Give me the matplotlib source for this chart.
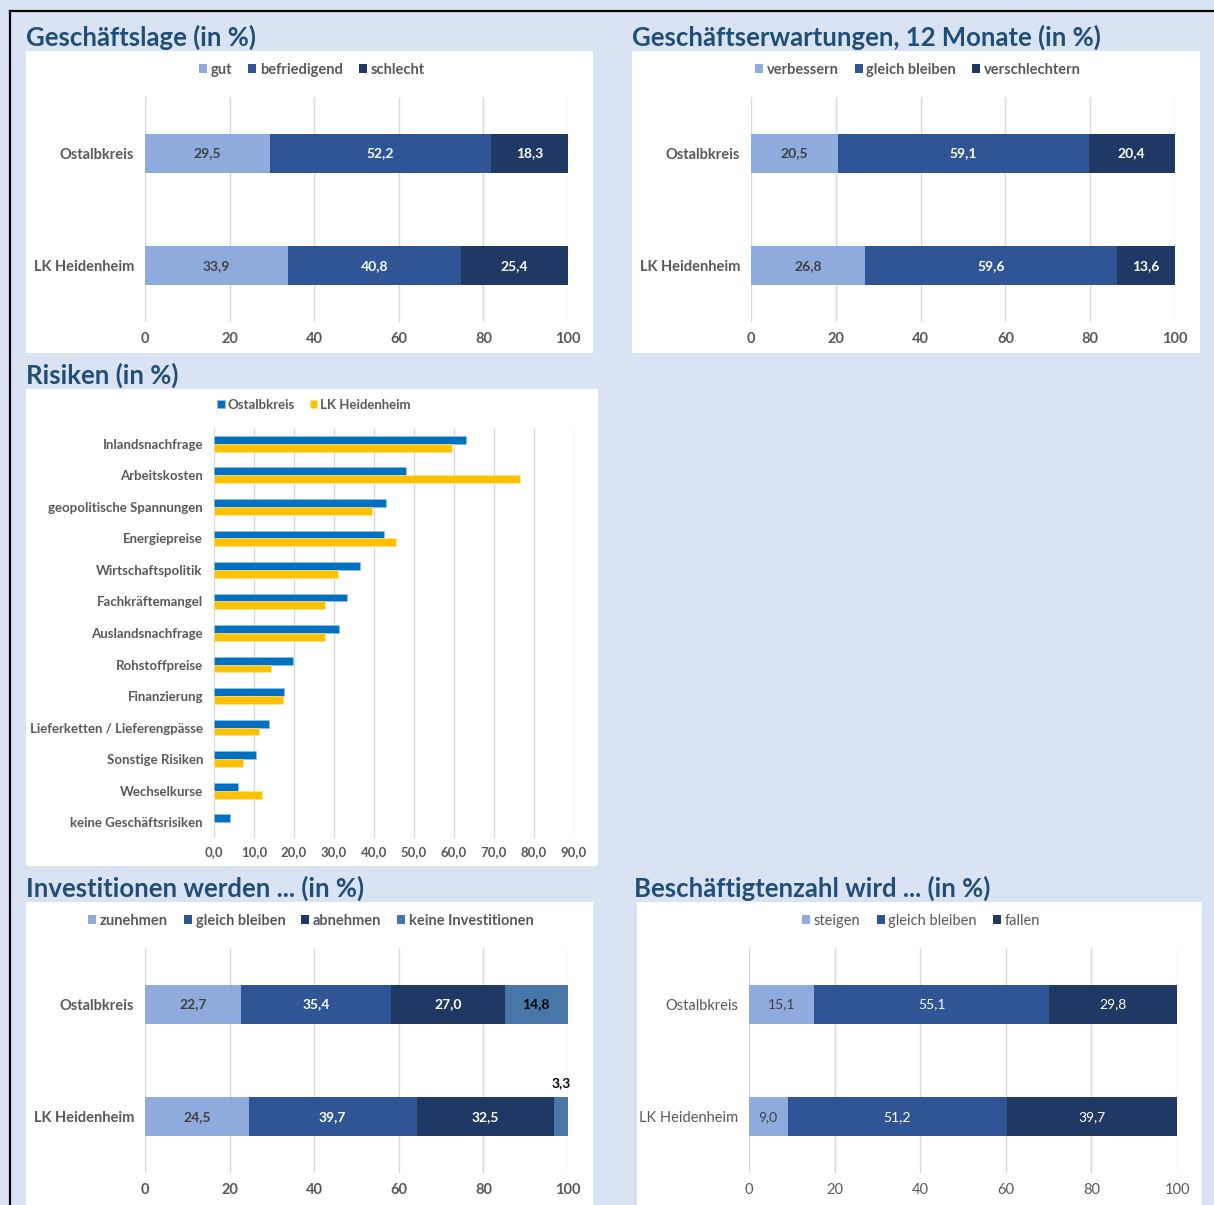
import matplotlib.pyplot as plt
from matplotlib.patches import Rectangle
from matplotlib.lines import Line2D

W, H = 1214, 1205
BG = '#dae3f3'
TITLE = '#1f4e79'
GREY = '#595959'
LIGHT, MID, DARK, STEEL = '#8faadc', '#2f5597', '#203864', '#4677a8'
RISK_BLUE, RISK_YELLOW = '#0070c0', '#ffc000'

regions = ['Ostalbkreis', 'LK Heidenheim']

lage_labels = ['gut', 'befriedigend', 'schlecht']
lage_ostalb = [29.5, 52.2, 18.3]
lage_heid = [33.9, 40.8, 25.4]

erw_labels = ['verbessern', 'gleich bleiben', 'verschlechtern']
erw_ostalb = [20.5, 59.1, 20.4]
erw_heid = [26.8, 59.6, 13.6]

inv_labels = ['zunehmen', 'gleich bleiben', 'abnehmen', 'keine Investitionen']
inv_ostalb = [22.7, 35.4, 27.0, 14.8]
inv_heid = [24.5, 39.7, 32.5, 3.3]

besch_labels = ['steigen', 'gleich bleiben', 'fallen']
besch_ostalb = [15.1, 55.1, 29.8]
besch_heid = [9.0, 51.2, 39.7]

risk_cats = ['Inlandsnachfrage', 'Arbeitskosten', 'geopolitische Spannungen',
             'Energiepreise', 'Wirtschaftspolitik', 'Fachkräftemangel',
             'Auslandsnachfrage', 'Rohstoffpreise', 'Finanzierung',
             'Lieferketten / Lieferengpässe', 'Sonstige Risiken',
             'Wechselkurse', 'keine Geschäftsrisiken']
risk_ostalb = [62.9, 48.1, 43.1, 42.4, 36.5, 33.3, 31.2, 19.7, 17.6, 13.7, 10.4, 6.0, 3.9]
risk_heid = [59.5, 76.5, 39.6, 45.5, 31.1, 27.8, 27.8, 14.3, 17.2, 11.3, 7.3, 12.0, 0.0]

plt.rcParams['font.family'] = ['Lato', 'DejaVu Sans']

fig = plt.figure(figsize=(W / 100, H / 100), dpi=100)
fig.patch.set_facecolor(BG)

# page frame on top and left
fig.add_artist(Line2D([10 / W, 1], [1 - 11 / H, 1 - 11 / H], color='black', lw=1.6))
fig.add_artist(Line2D([10 / W, 10 / W], [0, 1 - 11 / H], color='black', lw=1.6))


def fx(x):
    return x / W


def fy(y):
    return 1 - y / H


def white_box(x0, y0, x1, y1):
    fig.add_artist(Rectangle((fx(x0), fy(y1)), (x1 - x0) / W, (y1 - y0) / H,
                             transform=fig.transFigure, facecolor='white',
                             edgecolor='none', zorder=0))


def px_axes(x0, y0, x1, y1):
    ax = fig.add_axes([fx(x0), fy(y1), (x1 - x0) / W, (y1 - y0) / H])
    ax.set_facecolor('none')
    for s in ax.spines.values():
        s.set_visible(False)
    ax.tick_params(length=0)
    ax.grid(axis='x', color='#d9d9d9', lw=1)
    ax.set_axisbelow(True)
    return ax


def title(x, y, text):
    fig.text(fx(x), fy(y), text, fontsize=18.5, fontweight='bold', color=TITLE,
             va='center', ha='left')


def stacked_panel(box, axbox, ttl, labels, colors, v1, v2, legend_xy,
                  weight='bold', label_colors=None, title_x=None):
    white_box(*box)
    title(box[0] if title_x is None else title_x, box[1] - 14, ttl)
    ax = px_axes(*axbox)
    rows = [v1, v2]
    for j, lab in enumerate(labels):
        lefts = [sum(r[:j]) for r in rows]
        vals = [r[j] for r in rows]
        ax.barh([0, 1], vals, left=lefts, height=0.35, color=colors[j],
                label=lab)
        for i, v in enumerate(vals):
            if v < 5:
                continue
            c = label_colors[j] if label_colors else ('#404040' if j == 0 else 'white')
            ax.text(lefts[i] + v / 2, i, f'{v:.1f}'.replace('.', ','),
                    ha='center', va='center', fontsize=10, color=c,
                    fontweight=weight)
    ax.set_xlim(0, 100)
    ax.set_ylim(1.5, -0.5)
    ax.set_xticks(range(0, 101, 20))
    ax.set_yticks([0, 1])
    ax.set_yticklabels(regions)
    for t in ax.get_xticklabels() + ax.get_yticklabels():
        t.set_color(GREY)
        t.set_fontweight(weight)
        t.set_fontsize(10.5)
    ax.tick_params(axis='x', pad=7)
    ax.tick_params(axis='y', pad=8)
    leg = ax.legend(ncol=len(labels), loc='center',
                    bbox_to_anchor=(fx(legend_xy[0]), fy(legend_xy[1])),
                    bbox_transform=fig.transFigure, frameon=False,
                    handlelength=0.55, handleheight=0.55, handletextpad=0.25,
                    columnspacing=1.1, fontsize=10.5)
    for t in leg.get_texts():
        t.set_color(GREY)
        t.set_fontweight(weight)
    return ax


stacked_panel((26, 51, 593, 353), (145, 97, 568, 322), 'Geschäftslage (in %)',
              lage_labels, [LIGHT, MID, DARK], lage_ostalb, lage_heid, (312, 70))

stacked_panel((632, 51, 1200, 353), (751, 97, 1175, 322),
              'Geschäftserwartungen, 12 Monate (in %)',
              erw_labels, [LIGHT, MID, DARK], erw_ostalb, erw_heid, (918, 70))

ax_inv = stacked_panel((26, 902, 593, 1205), (145, 948, 568, 1173),
                       'Investitionen werden ... (in %)', inv_labels,
                       [LIGHT, MID, DARK, STEEL], inv_ostalb, inv_heid, (311, 921),
                       label_colors=['#404040', 'white', 'white', 'black'])
# small segment gets its label above the bar
ax_inv.text(sum(inv_heid[:3]) + inv_heid[3] / 2, 1 - 0.3,
            f'{inv_heid[3]:.1f}'.replace('.', ','), ha='center', va='center',
            fontsize=10, fontweight='bold', color='black')

stacked_panel((637, 902, 1202, 1205), (749, 948, 1177, 1173),
              'Beschäftigtenzahl wird ... (in %)', besch_labels,
              [LIGHT, MID, DARK], besch_ostalb, besch_heid, (921, 921),
              weight='normal', title_x=634)

# Risiken: grouped horizontal bars
white_box(26, 389, 598, 866)
title(26, 375, 'Risiken (in %)')
ax_r = px_axes(214, 428, 574, 838)
pos = list(range(len(risk_cats)))
ax_r.barh([p - 0.125 for p in pos], risk_ostalb, height=0.25, color=RISK_BLUE,
          edgecolor='#9dc3e6', lw=0.4, label='Ostalbkreis')
ax_r.barh([p + 0.125 for p in pos], risk_heid, height=0.25, color=RISK_YELLOW,
          edgecolor='#ffe699', lw=0.4, label='LK Heidenheim')
ax_r.set_xlim(0, 90)
ax_r.set_ylim(len(risk_cats) - 0.5, -0.5)
ax_r.set_xticks(range(0, 91, 10))
ax_r.set_xticklabels([f'{v},0' for v in range(0, 91, 10)])
ax_r.set_yticks(pos)
ax_r.set_yticklabels(risk_cats)
for t in ax_r.get_xticklabels() + ax_r.get_yticklabels():
    t.set_color(GREY)
    t.set_fontweight('bold')
    t.set_fontsize(9.5)
ax_r.tick_params(axis='x', pad=6)
ax_r.tick_params(axis='y', pad=8)
leg = ax_r.legend(ncol=2, loc='center', bbox_to_anchor=(fx(314), fy(405)),
                  bbox_transform=fig.transFigure, frameon=False,
                  handlelength=0.55, handleheight=0.55, handletextpad=0.25,
                  columnspacing=1.1, fontsize=9.5)
for t in leg.get_texts():
    t.set_color(GREY)
    t.set_fontweight('bold')

fig.savefig('out.png', dpi=100, facecolor=BG)
